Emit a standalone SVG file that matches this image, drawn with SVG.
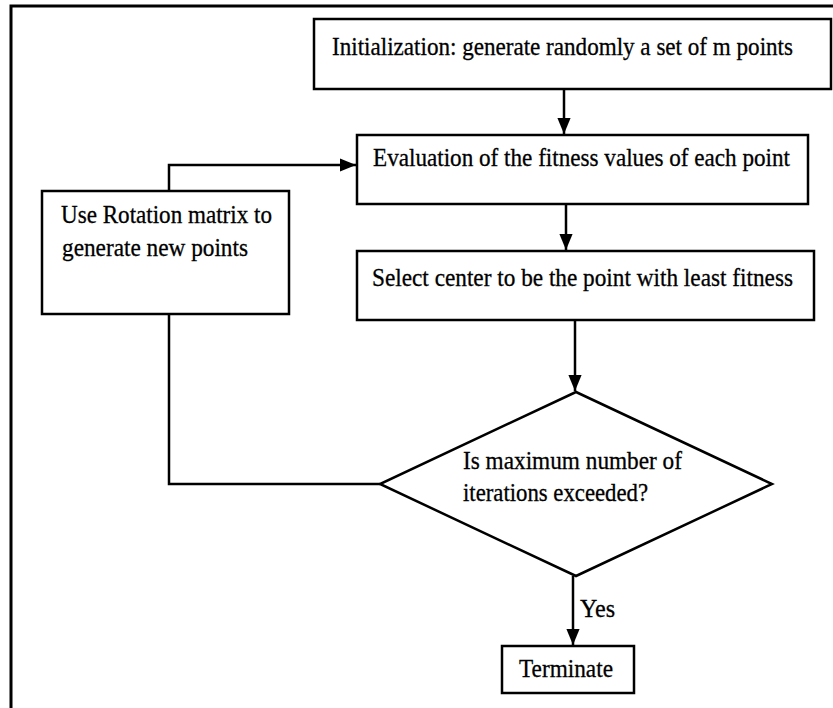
<svg xmlns="http://www.w3.org/2000/svg" width="833" height="708" viewBox="0 0 833 708">
<style>
.box{fill:#fff;stroke:#000;stroke-width:2.5}
.ln{fill:none;stroke:#000;stroke-width:2.5}
text{font-family:"Liberation Serif","Times New Roman",serif;font-size:25px;fill:#000;stroke:#000;stroke-width:0.3}
</style>
<defs>
<marker id="ah" markerUnits="userSpaceOnUse" markerWidth="16" markerHeight="18" refX="17" refY="7" orient="auto" viewBox="0 0 17 14">
<path d="M0,0 L17,7 L0,14 Z" fill="#000"/>
</marker>
</defs>
<rect width="833" height="708" fill="#fff"/>
<path d="M11,708 V6 H833" fill="none" stroke="#000" stroke-width="3"/>
<g id="connectors">
<line class="ln" x1="564" y1="89" x2="564" y2="134" marker-end="url(#ah)"/>
<line class="ln" x1="566" y1="204" x2="566" y2="250" marker-end="url(#ah)"/>
<line class="ln" x1="575" y1="320" x2="575" y2="391" marker-end="url(#ah)"/>
<line class="ln" x1="573" y1="576" x2="573" y2="645" marker-end="url(#ah)"/>
<path class="ln" d="M380,484 H169 V314"/>
<path class="ln" d="M169,191 V165 H356" marker-end="url(#ah)"/>
<text x="580" y="617" textLength="35" lengthAdjust="spacingAndGlyphs">Yes</text>
</g>
<g id="init">
<rect class="box" x="314" y="19" width="517" height="70"/>
<text x="332" y="55" textLength="461" lengthAdjust="spacingAndGlyphs">Initialization: generate randomly a set of m points</text>
</g>
<g id="eval">
<rect class="box" x="357" y="135" width="451" height="69"/>
<text x="373" y="166" textLength="417" lengthAdjust="spacingAndGlyphs">Evaluation of the fitness values of each point</text>
</g>
<g id="select">
<rect class="box" x="357" y="251" width="457" height="69"/>
<text x="372" y="286" textLength="421" lengthAdjust="spacingAndGlyphs">Select center to be the point with least fitness</text>
</g>
<g id="rotation">
<rect class="box" x="42" y="191" width="247" height="123"/>
<text x="61" y="223" textLength="211" lengthAdjust="spacingAndGlyphs">Use Rotation matrix to</text>
<text x="62" y="256" textLength="186" lengthAdjust="spacingAndGlyphs">generate new points</text>
</g>
<g id="decision">
<polygon class="box" points="576,392 772,484 576,576 380,484"/>
<text x="463" y="469" textLength="219" lengthAdjust="spacingAndGlyphs">Is maximum number of</text>
<text x="463" y="501" textLength="185" lengthAdjust="spacingAndGlyphs">iterations exceeded?</text>
</g>
<g id="terminate">
<rect class="box" x="502" y="646" width="132" height="47"/>
<text x="519" y="677" textLength="94" lengthAdjust="spacingAndGlyphs">Terminate</text>
</g>
</svg>
